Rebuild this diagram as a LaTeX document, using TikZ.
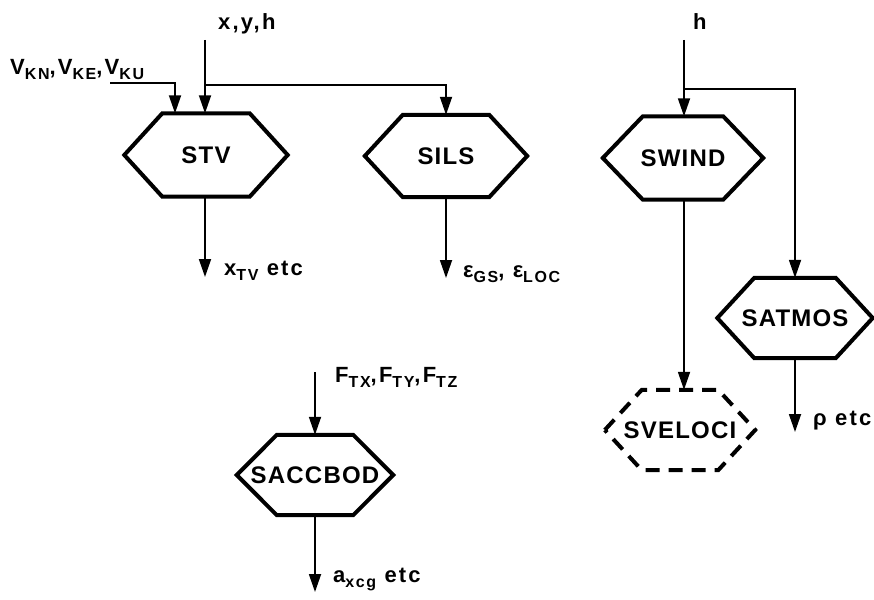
\documentclass[tikz,border=0pt]{standalone}
\usepackage{fontspec}
\setmainfont{Liberation Sans}
\newfontfamily\lett[LetterSpace=10]{Liberation Sans Bold}
\newfontfamily\hexfont[LetterSpace=5]{Liberation Sans Bold}
\usetikzlibrary{arrows.meta}
\newcommand{\lsub}[1]{\raisebox{-5pt}{\fontsize{16}{16}\selectfont #1}}
\tikzset{
 hexn/.style={rectangle, inner sep=0pt, font=\hexfont\fontsize{24}{26}\selectfont},
 hexline/.style={line width=4pt, line join=miter},
 conn/.style={line width=1.8pt},
 arr/.style={conn, -{Triangle[length=18pt,width=12pt]}},
 lab/.style={inner sep=0pt, anchor=base west, font=\lett\fontsize{22}{24}\selectfont}
}
\newcommand{\hexdraw}[3][]{%
 \draw[hexline,#1] (#2.west) -- ([xshift=#3]#2.north west) -- ([xshift=-#3]#2.north east) -- (#2.east) -- ([xshift=-#3]#2.south east) -- ([xshift=#3]#2.south west) -- cycle;}
\begin{document}
\begin{tikzpicture}[x=1pt,y=-1pt]
\useasboundingbox (0,0) rectangle (874,599);
% nodes
\node[hexn, minimum width=163pt, minimum height=83pt] (stv) at (206,155) {STV};
\node[hexn, minimum width=162pt, minimum height=82pt] (sils) at (446,156) {SILS};
\node[hexn, minimum width=160pt, minimum height=83pt] (swind) at (683,158) {SWIND};
\node[hexn, minimum width=155pt, minimum height=80pt] (satmos) at (795,318) {SATMOS};
\node[hexn, minimum width=150pt, minimum height=80pt] (sveloci) at (680,430) {SVELOCI};
\node[hexn, minimum width=156pt, minimum height=80pt] (saccbod) at (315,475) {SACCBOD};
\hexdraw{stv}{38}
\hexdraw{sils}{38}
\hexdraw{swind}{40}
\hexdraw{satmos}{37}
\hexdraw[dash pattern=on 14pt off 9pt]{sveloci}{37}
\hexdraw{saccbod}{40}
% labels
\node[lab] (lxyh) at (218,30) {x,y,h};
\node[lab] (lvk) at (10,75) {V\lsub{KN},V\lsub{KE},V\lsub{KU}};
\node[lab] (lxtv) at (224,275) {x\lsub{TV} etc};
\node[lab] (leps) at (463,277) {ε\lsub{GS}, ε\lsub{LOC}};
\node[lab] (lh) at (693,30) {h};
\node[lab] (lrho) at (813,425) {ρ etc};
\node[lab] (lf) at (335,382) {F\lsub{TX},F\lsub{TY},F\lsub{TZ}};
\node[lab] (lacc) at (333,582) {a\lsub{xcg} etc};
% coordinates
\coordinate (xyhstart) at (205,40);
\coordinate (j1) at (205,85);
\coordinate (vkstart) at (110,83);
\coordinate (vkend) at (175,83);
\coordinate (stvout) at (205,277);
\coordinate (silsout) at (446,278);
\coordinate (hstart) at (684,40);
\coordinate (j2) at (684,89);
\coordinate (satout) at (795,432);
\coordinate (fstart) at (315,372);
\coordinate (saccout) at (315,592);
% connectors
\draw[arr] (xyhstart) -- (xyhstart |- stv.north);
\draw[arr] (j1) -| (sils.north);
\draw[arr] (vkstart) -- (vkend) -- (vkend |- stv.north);
\draw[arr] (stv.south -| xyhstart) -- (stvout);
\draw[arr] (sils.south) -- (silsout);
\draw[arr] (hstart) -- (hstart |- swind.north);
\draw[arr] (j2) -| (satmos.north);
\draw[arr] (swind.south -| hstart) -- (hstart |- sveloci.north);
\draw[arr] (satmos.south) -- (satout);
\draw[arr] (fstart) -- (saccbod.north);
\draw[arr] (saccbod.south) -- (saccout);
\end{tikzpicture}
\end{document}
